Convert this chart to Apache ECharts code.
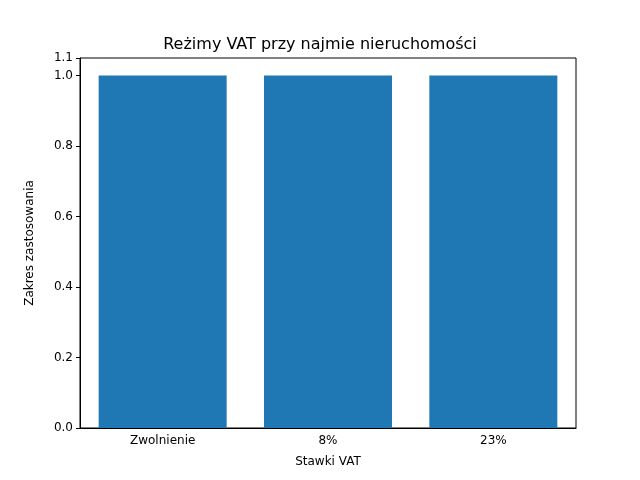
<!DOCTYPE html>
<html><head><meta charset="utf-8">
<script src="https://cdn.jsdelivr.net/npm/echarts@6/dist/echarts.min.js"></script>
<style>html,body{margin:0;padding:0;background:#fff}</style>
</head><body>
<div id="c" style="width:640px;height:480px"></div>
<script>
const categories = ["Zwolnienie", "8%", "23%"];
const values = [1.0, 1.0, 1.0];
const chart = echarts.init(document.getElementById('c'));
const font = 'DejaVu Sans';
chart.setOption({
  animation: false,
  title: {text: 'Reżimy VAT przy najmie nieruchomości', left: 'center', top: 32,
    textStyle: {fontFamily: font, fontSize: 16, fontWeight: 'normal', color: '#000'}},
  grid: {left: 80, top: 58, width: 496, height: 370, show: true, borderColor: '#000', borderWidth: 1},
  xAxis: {type: 'category', data: categories,
    name: 'Stawki VAT', nameLocation: 'middle', nameGap: 28,
    nameTextStyle: {fontFamily: font, fontSize: 12, color: '#000'},
    axisLine: {lineStyle: {color: '#000'}},
    axisTick: {alignWithLabel: true, length: 4, lineStyle: {color: '#000'}},
    axisLabel: {fontFamily: font, fontSize: 12, color: '#000', margin: 7}},
  yAxis: {type: 'value', min: 0, max: 1.05, interval: 0.2,
    name: 'Zakres zastosowania', nameLocation: 'middle', nameGap: 44,
    nameTextStyle: {fontFamily: font, fontSize: 12, color: '#000'},
    axisLine: {show: true, lineStyle: {color: '#000'}},
    axisTick: {show: true, length: 4, lineStyle: {color: '#000'}},
    splitLine: {show: false},
    axisLabel: {fontFamily: font, fontSize: 12, color: '#000', margin: 7,
      formatter: v => v.toFixed(1)}},
  series: [{type: 'bar', data: values, barWidth: 128, itemStyle: {color: '#1f77b4'}}]
});
</script>
</body></html>
